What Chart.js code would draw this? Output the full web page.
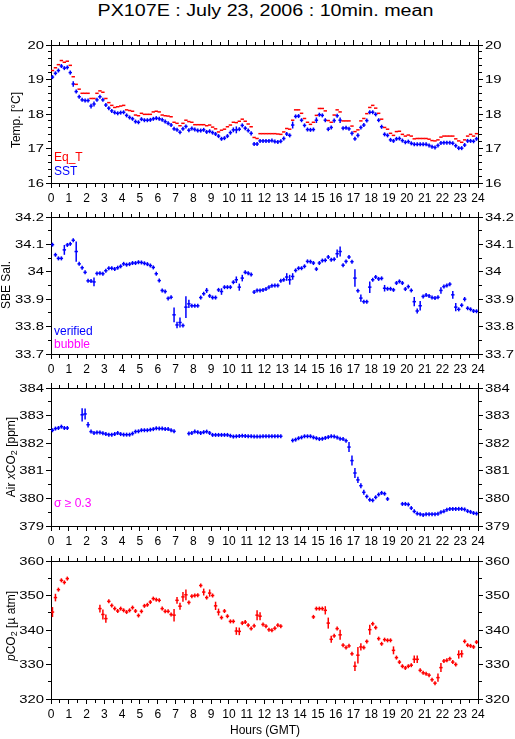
<!DOCTYPE html>
<html><head><meta charset="utf-8">
<script src="https://cdn.jsdelivr.net/npm/chart.js@4.4.1/dist/chart.umd.min.js"></script>
<style>
html,body{margin:0;padding:0;background:#fff;width:515px;height:739px;overflow:hidden;position:relative;}
#title{position:absolute;left:0;top:2px;width:531px;text-align:center;font-family:"Liberation Sans",Arial,sans-serif;font-size:16px;line-height:18px;color:#000;white-space:nowrap;transform:scaleX(1.23);transform-origin:265.5px 50%;}
.pw{position:absolute;left:0;width:515px;}
</style></head><body>
<div id="title">PX107E : July 23, 2006 : 10min. mean</div>
<div class="pw" id="w1"><canvas id="c1"></canvas></div>
<div class="pw" id="w2"><canvas id="c2"></canvas></div>
<div class="pw" id="w3"><canvas id="c3"></canvas></div>
<div class="pw" id="w4"><canvas id="c4"></canvas></div>
<script>
// ---- time axis: 10-minute means (centre of each interval), hours GMT
const hourTicks = [0,1,2,3,4,5,6,7,8,9,10,11,12,13,14,15,16,17,18,19,20,21,22,23,24];
const firstHour = 1/12, stepHour = 1/6;

// ---- Panel 1 : temperatures [°C]
const eqT = [
19.26,19.34,19.43,19.55,19.5,19.53,19.41,19.08,18.86,18.72,
18.6,18.6,18.6,18.45,18.45,18.6,18.67,18.63,18.45,18.33,
18.25,18.19,18.21,18.23,18.25,18.12,18.1,18.08,17.97,17.95,
18.02,17.99,17.99,17.99,18.06,18.08,18.06,17.97,17.95,17.94,
17.92,17.76,17.73,17.66,17.73,17.82,17.78,17.76,17.69,17.69,
17.69,17.69,17.66,17.68,17.62,17.57,17.48,17.53,17.56,17.63,
17.68,17.76,17.75,17.79,17.85,17.79,17.71,17.63,17.32,17.29,
17.43,17.43,17.43,17.43,17.43,17.43,17.42,17.41,17.48,17.58,
17.56,17.82,18.12,18.12,18.02,17.87,17.76,17.7,17.76,17.96,
18.16,18.16,18.09,17.81,17.76,17.97,18.12,18.06,17.8,17.8,
17.8,17.65,17.49,17.54,17.8,17.87,18.01,18.19,18.25,18.17,
18.02,17.85,17.61,17.56,17.44,17.38,17.49,17.5,17.41,17.36,
17.39,17.36,17.28,17.29,17.29,17.29,17.29,17.27,17.23,17.22,
17.25,17.33,17.36,17.36,17.36,17.36,17.28,17.22,17.18,17.25,
17.36,17.41,17.36,17.43];
const sst = [
19.07,19.18,19.26,19.39,19.33,19.35,19.2,18.87,18.65,18.5,
18.41,18.39,18.39,18.23,18.29,18.41,18.5,18.41,18.26,18.17,
18.09,18.04,18.02,18.04,18.05,17.96,17.9,17.86,17.78,17.76,
17.85,17.82,17.82,17.83,17.86,17.88,17.86,17.83,17.78,17.73,
17.68,17.57,17.54,17.47,17.57,17.64,17.53,17.58,17.55,17.52,
17.52,17.54,17.48,17.5,17.46,17.42,17.36,17.28,17.3,17.36,
17.46,17.54,17.54,17.56,17.67,17.59,17.52,17.44,17.13,17.13,
17.22,17.22,17.22,17.22,17.23,17.2,17.19,17.21,17.29,17.42,
17.38,17.68,17.93,17.94,17.82,17.67,17.55,17.54,17.55,17.82,
17.98,17.96,17.82,17.56,17.61,17.81,17.95,17.82,17.59,17.6,
17.57,17.44,17.28,17.38,17.61,17.68,17.81,18.05,18.05,17.99,
17.82,17.63,17.41,17.38,17.25,17.22,17.28,17.29,17.23,17.18,
17.2,17.15,17.12,17.12,17.12,17.12,17.12,17.09,17.05,17.03,
17.09,17.16,17.17,17.17,17.17,17.15,17.08,17.01,17.01,17.1,
17.22,17.22,17.21,17.28];
const sstSigma = [
0,0,0,.03,.05,.04,.06,.08,.05,0,0,0,
0,.07,.07,.05,.05,0,0,0,0,0,0,0,
0,0,0,0,0,0,0,0,0,0,0,0,
0,0,0,0,0,0,0,0,0,0,0,0,
0,0,0,0,0,0,0,0,.04,.05,.05,0,
.06,.07,.1,0,0,0,.05,.06,.04,0,0,0,
0,0,0,0,0,0,.04,.05,.04,.1,.05,0,
0,.05,0,0,.05,.08,0,.05,0,.05,.06,.06,
0,.08,0,0,0,.06,.05,.06,.05,.05,0,0,
0,0,.05,.06,.05,0,0,0,0,0,0,0,
0,0,0,0,0,0,0,0,0,0,0,0,
0,0,0,0,0,0,0,0,0,0,0,0];

// ---- Panel 2 : SBE salinity
const sal = [
34.099,34.062,34.049,34.049,34.08,34.098,34.102,34.115,34.074,34.029,
34.015,33.998,33.967,33.966,33.963,33.994,33.995,33.993,34.004,34.013,
34.013,34.01,34.015,34.02,34.029,34.026,34.028,34.032,34.032,34.035,
34.034,34.031,34.028,34.023,34.016,33.993,33.968,33.932,33.928,33.903,
33.907,33.843,33.806,33.815,33.804,33.871,33.883,33.876,33.876,33.876,
33.906,33.92,33.932,33.912,33.906,33.906,33.934,33.928,33.944,33.944,
33.944,33.962,33.971,33.944,33.977,33.998,33.995,33.99,33.926,33.932,
33.932,33.934,33.937,33.944,33.949,33.95,33.95,33.967,33.971,33.981,
33.971,33.983,34.005,34.013,34.013,34.02,34.038,34.037,34.032,34.01,
34.032,34.041,34.042,34.054,34.044,34.046,34.066,34.074,34.024,34.038,
34.054,34.037,33.977,33.931,33.904,33.891,33.891,33.944,33.971,33.981,
33.974,33.976,33.94,33.938,33.938,33.934,33.959,33.965,33.959,33.937,
33.946,33.932,33.891,33.857,33.876,33.91,33.915,33.912,33.906,33.904,
33.907,33.932,33.946,33.95,33.955,33.916,33.871,33.863,33.878,33.9,
33.867,33.863,33.857,33.856];
const salSigma = [
0,0,0,0,.018,0,0,0,.037,0,0,0,
0,0,.016,0,0,0,0,0,0,0,0,0,
0,0,0,0,0,0,0,0,0,0,0,0,
0,0,0,0,0,.027,.012,.018,0,.04,.015,0,
0,0,0,0,.009,0,0,0,0,.012,0,0,
0,0,.012,.013,.012,0,0,0,0,0,0,0,
0,0,0,0,0,0,0,.014,.018,.012,0,0,
0,0,0,0,0,0,0,0,0,0,0,0,
.015,.018,0,0,0,0,.032,0,.013,0,0,.021,
0,0,0,0,.012,0,0,0,0,0,0,0,
0,0,.017,.009,.017,0,0,0,0,0,0,.012,
0,0,0,.014,.015,0,0,.008,0,0,0,0];

// ---- Panel 3 : Air xCO2 [ppm]
const airCO2 = [
382.47,382.53,382.55,382.6,382.55,382.55,null,null,null,null,
383.03,383.06,382.67,382.42,382.37,382.39,382.39,382.36,382.33,382.31,
382.31,382.33,382.37,382.33,382.31,382.31,382.31,382.35,382.42,382.43,
382.47,382.47,382.47,382.49,382.51,382.54,382.53,382.53,382.51,382.51,
382.47,382.43,null,null,null,null,382.35,382.37,382.42,382.4,
382.37,382.4,382.42,382.37,382.3,382.3,382.3,382.3,382.3,382.3,
382.27,382.24,382.25,382.26,382.27,382.26,382.25,382.25,382.24,382.24,
382.24,382.25,382.25,382.25,382.25,382.25,382.25,382.25,null,null,
null,382.1,382.13,382.18,382.21,382.25,382.25,382.25,382.21,382.18,
382.15,382.16,382.19,382.22,382.25,382.24,382.21,382.16,382.15,382.09,
381.86,381.37,380.92,380.67,380.46,380.22,380.07,379.95,379.93,380.04,
380.14,380.2,380.17,379.98,null,null,null,null,379.8,379.8,
379.78,379.65,379.53,379.45,379.43,379.4,379.43,379.43,379.43,379.43,
379.44,379.5,379.53,379.59,379.62,379.62,379.62,379.62,379.62,379.6,
379.54,379.51,379.47,379.45];
const airSigma = [
0,0,0,0,0,0,0,0,0,0,.24,.2,
.1,0,0,0,0,0,0,0,0,0,0,0,
0,0,0,0,0,0,0,0,0,0,0,0,
0,0,0,0,0,0,0,0,0,0,0,0,
0,0,0,0,0,0,0,0,0,0,0,0,
0,0,0,0,0,0,0,0,0,0,0,0,
0,0,0,0,0,0,0,0,0,0,0,0,
0,0,0,0,0,0,0,0,0,0,0,0,
0,0,0,0,.18,.18,.18,.11,.09,.09,0,0,
0,0,0,0,0,0,0,0,0,0,0,0,
0,0,0,0,0,0,0,0,0,0,0,0,
0,0,0,0,0,0,0,0,0,0,0,0];

// ---- Panel 4 : pCO2 [µatm]
const pCO2 = [
345.2,349.4,351.7,354.4,353.8,354.9,null,null,null,null,
null,null,null,null,null,null,346.2,344.5,343.3,348.3,
347.1,346.2,345.5,346.2,345.7,345.2,345.7,346.5,345.5,344.2,
345.4,347,347.3,348.1,349.1,348.8,348.6,346.2,345.4,345.4,
344.5,344.3,348.6,346.9,349.6,350.2,348,349.8,350,350.1,
352.9,351,349.4,350.7,350,347,345.2,343.6,345.5,344,
342.5,342.5,339.7,339.6,342,342.3,341.4,340.4,341.2,344.3,
344.0,341.6,341.1,340.1,339.9,340.5,341.4,341.1,null,null,
null,null,null,null,null,null,null,null,343.8,346.2,
346.2,346.2,345.7,342,337.3,338.3,340.4,338.6,335.6,334.9,
335.4,333.1,329.5,332.7,335.1,334.9,336.7,340.1,341.8,340.7,
337.5,336,337.2,337,337,334.1,332,330.7,329.5,329,
329.5,329.8,331.5,331.5,328.3,327.6,327.3,326.9,325.6,324.6,
326.2,329.1,331,331.2,331.7,330.7,330,332.9,333.1,336.7,
335.6,335.4,335.1,336.5];
const pCO2Sigma = [
1.45,1.1,0,0,0,0,0,0,0,0,0,0,
0,0,0,0,1.1,1.45,1.2,0,0,0,0,0,
0,0,0,0,0,0,0,0,0,0,0,0,
0,0,0,0,0,1.8,1,1,1.4,1.55,0,0,
0,0,0,1,0,1.05,0,1.2,1,0,0,0,
0,0,1.1,1.1,0,0,0,0,0,1.45,1.15,0,
0,0,0,0,0,0,0,0,0,0,0,0,
0,0,0,0,0,0,0,0,1.2,1.6,1,0,
0,1.45,0,0,0,0,1.35,2.4,1.05,0,0,1.45,
0,0,0,0,0,0,0,1.15,0,0,0,0,
0,0,1.1,1.1,0,0,0,0,0,0,1.2,1.3,
0,0,0,0,0,1.2,1.05,0,0,0,0,0];

// ---- helpers
const RED='#ff0000', BLUE='#0000ff', MAG='#ff00ff';
const FONT='"Liberation Sans", Arial, sans-serif';
function points(vals, sig){
  const out=[];
  vals.forEach((v,i)=>{ if(v!==null) out.push({x:firstHour+i*stepHour, y:v, e: sig? sig[i]:0}); });
  return out;
}
function vRadius(minPx){
  return c => {
    const d=c.raw, s=c.chart.scales.y;
    if(!d||!s) return minPx;
    const p=Math.abs(s.getPixelForValue(d.y+d.e)-s.getPixelForValue(d.y));
    return Math.max(minPx,p);
  };
}
function crossSets(data,color,vertical){
  const base={type:'scatter',data,showLine:false,pointStyle:'line',pointBorderColor:color,
    pointBackgroundColor:color,pointBorderWidth:1.5,pointHoverRadius:0,xAxisID:'x',yAxisID:'y'};
  const sets=[Object.assign({},base,{pointRadius:1.7,pointRotation:0})];
  if(vertical) sets.push(Object.assign({},base,{pointRadius:vRadius(2),pointRotation:90}));
  return sets;
}
const near=(v,step)=>Math.abs(v/step-Math.round(v/step))<1e-6;
function gridCfg(major, farFirst){
  return {display:true,drawOnChartArea:false,drawTicks:true,tickLength:5,tickColor:'#000',tickWidth:1,
    tickBorderDash:c=>near(c.tick.value,major)?[]:[3,20],
    tickBorderDashOffset:c=>near(c.tick.value,major)?0:(farFirst?21:0)};
}
const tickFont={family:FONT,size:12};
function xAxis(pos,height,labels){
  return {type:'linear',position:pos,min:0,max:24,
    ticks:{stepSize:0.5,autoSkip:false,maxRotation:0,minRotation:0,color:'#000',font:tickFont,padding:3,
      callback:v=>(labels && hourTicks.some(h=>Math.abs(v-h)<1e-6))?String(Math.round(v)):''},
    grid:gridCfg(1,pos==='top'),border:{display:true,color:'#000',width:1},
    afterFit:s=>{s.height=height;}};
}
// y tick labels are drawn by the yLabels plugin (wide lettering as in the original)
const yLabelCfg = {};
function yAxis(pos,min,max,minor,major){
  return {type:'linear',position:pos,min,max,
    ticks:{stepSize:minor,autoSkip:false,color:'#000',font:tickFont,padding:2,callback:()=>''},
    grid:gridCfg(major,pos==='left'),border:{display:true,color:'#000',width:1},
    afterFit:s=>{s.width=(pos==='left'?51:37);}};
}
const yLabels={id:'yLabels',afterDraw(chart){
  const cfg=yLabelCfg[chart.canvas.id]; if(!cfg) return;
  const ctx=chart.ctx;
  ['y','yr'].forEach(id=>{
    const s=chart.scales[id];
    s.ticks.forEach(t=>{
      if(!near(t.value,cfg.major)) return;
      const py=s.getPixelForValue(t.value);
      const txt=cfg.fmt(t.value);
      ctx.save();
      ctx.font='11px '+FONT; ctx.fillStyle='#000'; ctx.textBaseline='middle';
      const sx=1.35;
      const w=ctx.measureText(txt).width*sx;
      const x0= id==='y' ? s.right-7-w : s.left+7;
      ctx.translate(x0,py); ctx.scale(sx,1);
      ctx.textAlign='left'; ctx.fillText(txt,0,0.5);
      ctx.restore();
    });
  });
}};
// text decoration plugin (axis titles with sub/italic segments, inline legends)
const decorItems = {};
const decor={id:'decor',afterDraw(chart){
  const ctx=chart.ctx;
  (decorItems[chart.canvas.id]||[]).forEach(it=>{
    ctx.save();
    ctx.translate(it.x,it.y);
    if(it.rot) ctx.rotate(-Math.PI/2);
    ctx.textBaseline='middle';
    let w=0;
    it.segs.forEach(s=>{ctx.font=(s.it?'italic ':'')+(s.size||12)+'px '+FONT; w+=ctx.measureText(s.t).width;});
    let x=it.align==='left'?0:-w/2;
    it.segs.forEach(s=>{
      ctx.font=(s.it?'italic ':'')+(s.size||12)+'px '+FONT;
      ctx.fillStyle=it.color||'#000';
      ctx.textAlign='left';
      ctx.fillText(s.t,x,s.dy||0);
      x+=ctx.measureText(s.t).width;
    });
    ctx.restore();
  });
}};
Chart.register(decor,yLabels);

function panel(n,areaTop,areaBottom,bottomH,yMin,yMax,minor,major,fmt,datasets,items){
  const topH=10;
  const w=document.getElementById('w'+n);
  const top=areaTop-topH, h=areaBottom-areaTop+topH+bottomH;
  w.style.top=top+'px'; w.style.height=h+'px';
  const cv=document.getElementById('c'+n);
  cv.width=515; cv.height=h;
  cv.style.width='515px'; cv.style.height=h+'px';
  items.forEach(it=>{it.y-=top;});
  decorItems[cv.id]=items;
  yLabelCfg[cv.id]={major,fmt};
  return new Chart(cv,{data:{datasets},options:{
    responsive:false,animation:false,events:[],devicePixelRatio:1,
    layout:{padding:0},
    plugins:{legend:{display:false},tooltip:{enabled:false},title:{display:false}},
    scales:{x:xAxis('bottom',bottomH,true),xt:xAxis('top',topH,false),
      y:yAxis('left',yMin,yMax,minor,major),yr:yAxis('right',yMin,yMax,minor,major)}
  }});
}

const intFmt=v=>String(Math.round(v));
panel(1,45,183,30,16,20,0.2,1,intFmt,
  [...crossSets(points(eqT,null),RED,false),...crossSets(points(sst,sstSigma),BLUE,true)],
  [{x:17,y:120,rot:true,segs:[{t:'Temp. [°C]'}]},
   {x:54,y:158,align:'left',color:RED,segs:[{t:'Eq_T'}]},
   {x:54,y:172,align:'left',color:BLUE,segs:[{t:'SST'}]}]);
panel(2,217,354,30,33.7,34.2,0.05,0.1,v=>String(Math.round(v*10)/10),
  crossSets(points(sal,salSigma),BLUE,true),
  [{x:7,y:285,rot:true,segs:[{t:'SBE Sal.'}]},
   {x:54,y:332,align:'left',color:BLUE,segs:[{t:'verified'}]},
   {x:54,y:345,align:'left',color:MAG,segs:[{t:'bubble'}]}]);
panel(3,388,526,30,379,384,0.5,1,intFmt,
  crossSets(points(airCO2,airSigma),BLUE,true),
  [{x:12,y:457,rot:true,segs:[{t:'Air '},{t:'x',it:true},{t:'CO'},{t:'2',size:9,dy:3},{t:' [ppm]'}]},
   {x:54,y:504,align:'left',color:MAG,segs:[{t:'σ ≥ 0.3'}]}]);
panel(4,561,699,40,320,360,5,10,intFmt,
  crossSets(points(pCO2,pCO2Sigma),RED,true),
  [{x:12,y:626,rot:true,segs:[{t:'p',it:true},{t:'CO'},{t:'2',size:9,dy:3},{t:' [µ atm]'}]},
   {x:265,y:731,segs:[{t:'Hours (GMT)'}]}]);
</script>
</body></html>
